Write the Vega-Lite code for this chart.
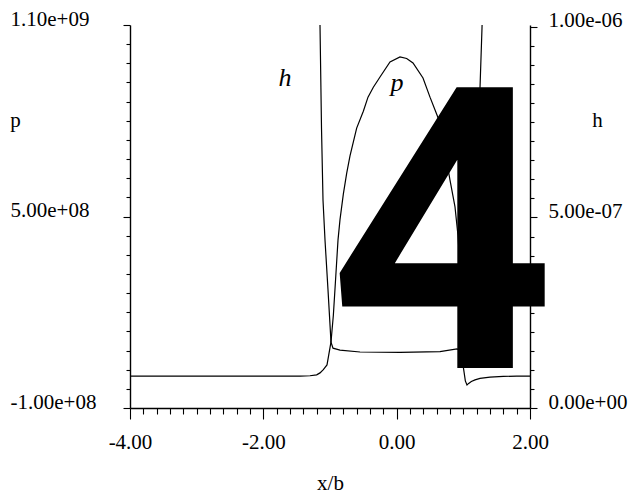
{
  "$schema": "https://vega.github.io/schema/vega-lite/v6.json",
  "width": 400,
  "height": 383,
  "autosize": {"type": "none"},
  "padding": {"left": 130, "top": 25, "right": 109, "bottom": 89},
  "background": "white",
  "config": {
    "view": {"stroke": null},
    "axis": {
      "labelFont": "Liberation Serif",
      "titleFont": "Liberation Serif",
      "labelFontSize": 21,
      "titleFontSize": 21,
      "labelColor": "black",
      "titleColor": "black",
      "domainColor": "black",
      "tickColor": "black",
      "grid": false,
      "titleFontWeight": "normal",
      "domainWidth": 1.4,
      "tickWidth": 1.1,
      "labelOverlap": false,
      "labelFlush": false,
      "tickCount": 200
    }
  },
  "datasets": {
    "pres": [
      {"x": -4, "p": 0}, {"x": -2, "p": 0}, {"x": -1.45, "p": 0}, {"x": -1.3, "p": 1000000},
      {"x": -1.2, "p": 4000000}, {"x": -1.15, "p": 10000000}, {"x": -1.1, "p": 20000000},
      {"x": -1.045, "p": 35000000}, {"x": -1.02, "p": 65000000}, {"x": -0.985, "p": 107000000},
      {"x": -0.95, "p": 190000000}, {"x": -0.92, "p": 290000000}, {"x": -0.88, "p": 426000000},
      {"x": -0.85, "p": 490000000}, {"x": -0.8, "p": 570000000}, {"x": -0.75, "p": 635000000},
      {"x": -0.7, "p": 690000000}, {"x": -0.6, "p": 777000000}, {"x": -0.5, "p": 830000000},
      {"x": -0.43, "p": 874000000}, {"x": -0.35, "p": 905000000}, {"x": -0.25, "p": 937000000},
      {"x": -0.1, "p": 984000000}, {"x": 0.05, "p": 1000000000}, {"x": 0.15, "p": 995000000},
      {"x": 0.245, "p": 981000000}, {"x": 0.395, "p": 934000000}, {"x": 0.5, "p": 874000000},
      {"x": 0.605, "p": 818000000}, {"x": 0.65, "p": 793000000}, {"x": 0.8, "p": 614000000},
      {"x": 0.875, "p": 530000000}, {"x": 0.92, "p": 440000000}, {"x": 0.95, "p": 340000000},
      {"x": 0.975, "p": 200000000}, {"x": 0.99, "p": 100000000}, {"x": 1.0, "p": 28000000},
      {"x": 1.03, "p": -15000000}, {"x": 1.055, "p": -28000000}, {"x": 1.08, "p": -23000000},
      {"x": 1.12, "p": -17000000}, {"x": 1.175, "p": -12000000}, {"x": 1.25, "p": -7000000},
      {"x": 1.4, "p": -3000000}, {"x": 1.6, "p": -1000000}, {"x": 1.8, "p": 0}, {"x": 2, "p": 0}
    ],
    "film": [
      {"x": -1.16, "h": 1.06e-6}, {"x": -1.15, "h": 1.005e-6}, {"x": -1.1275, "h": 7.35e-7},
      {"x": -1.105, "h": 5.46e-7}, {"x": -1.075, "h": 4.41e-7}, {"x": -1.03, "h": 3.1e-7},
      {"x": -0.985, "h": 1.73e-7}, {"x": -0.955, "h": 1.57e-7}, {"x": -0.85, "h": 1.52e-7},
      {"x": -0.55, "h": 1.47e-7}, {"x": 0.05, "h": 1.46e-7}, {"x": 0.65, "h": 1.48e-7},
      {"x": 0.905, "h": 1.55e-7}, {"x": 0.97, "h": 1.5e-7}, {"x": 1.0, "h": 1.4e-7},
      {"x": 1.05, "h": 1.7e-7}, {"x": 1.1, "h": 2.7e-7}, {"x": 1.15, "h": 4.3e-7},
      {"x": 1.2, "h": 6.3e-7}, {"x": 1.25, "h": 8.4e-7}, {"x": 1.28, "h": 9.97e-7},
      {"x": 1.29, "h": 1.06e-6}
    ],
    "marks": [
      {"x": -1.675, "p": 934000000, "label": "h"},
      {"x": 0.005, "p": 918000000, "label": "p"}
    ],
    "glyph": [
      {"x": -1.02, "h": 1.05e-7, "label": "4"}
    ]
  },
  "layer": [
    {
      "layer": [
        {
          "data": {"name": "pres"},
          "mark": {"type": "line", "color": "black", "strokeWidth": 1.2, "clip": true},
          "encoding": {
            "x": {
              "field": "x", "type": "quantitative",
              "scale": {"domain": [-4, 2], "nice": false, "zero": false},
              "axis": {
                "orient": "bottom",
                "tickCount": 200,
                "values": [-4, -3.8, -3.6, -3.4, -3.2, -3, -2.8, -2.6, -2.4, -2.2, -2, -1.8, -1.6, -1.4, -1.2, -1, -0.8, -0.6, -0.4, -0.2, 0, 0.2, 0.4, 0.6, 0.8, 1, 1.2, 1.4, 1.6, 1.8, 2],
                "labelExpr": "datum.value == -4 ? '-4.00' : datum.value == -2 ? '-2.00' : datum.value == 0 ? '0.00' : datum.value == 2 ? '2.00' : ''",
                "tickSize": {"condition": {"test": "datum.value == -4 || datum.value == -2 || datum.value == 0 || datum.value == 2", "value": 11}, "value": 6},
                "labelPadding": 12,
                "title": "x/b",
                "titleX": 200,
                "titleY": 75,
                "titleBaseline": "middle",
                "titleAlign": "center"
              }
            },
            "y": {
              "field": "p", "type": "quantitative",
              "scale": {"domain": [-100000000, 1100000000], "nice": false, "zero": false},
              "axis": {
                "orient": "left",
                "tickCount": 200,
                "values": [-100000000, -40000000, 20000000, 80000000, 140000000, 200000000, 260000000, 320000000, 380000000, 440000000, 500000000, 560000000, 620000000, 680000000, 740000000, 800000000, 860000000, 920000000, 980000000, 1040000000, 1100000000],
                "labelExpr": "datum.value == 1100000000 ? '1.10e+09' : datum.value == 500000000 ? '5.00e+08' : datum.value == -100000000 ? '-1.00e+08' : ''",
                "tickSize": {"condition": {"test": "datum.value == -100000000 || datum.value == 500000000 || datum.value == 1100000000", "value": 7}, "value": 4},
                "labelAlign": "left",
                "labelBaseline": "alphabetic",
                "labelPadding": 113,
                "title": "p",
                "titleAngle": 0,
                "titleX": -115,
                "titleY": 95,
                "titleAlign": "center",
                "titleBaseline": "middle"
              }
            }
          }
        },
        {
          "data": {"name": "marks"},
          "mark": {"type": "text", "font": "Liberation Serif", "fontStyle": "italic", "fontSize": 26, "align": "center", "baseline": "middle", "color": "black"},
          "encoding": {
            "x": {"field": "x", "type": "quantitative"},
            "y": {"field": "p", "type": "quantitative"},
            "text": {"field": "label"}
          }
        }
      ]
    },
    {
      "layer": [
        {
          "data": {"name": "film"},
          "mark": {"type": "line", "color": "black", "strokeWidth": 1.2, "clip": true},
          "encoding": {
            "x": {"field": "x", "type": "quantitative"},
            "y": {
              "field": "h", "type": "quantitative",
              "scale": {"domain": [0, 1.005e-6], "nice": false, "zero": false},
              "axis": {
                "orient": "right",
                "tickCount": 200,
                "values": [0, 5e-8, 1e-7, 1.5e-7, 2e-7, 2.5e-7, 3e-7, 3.5e-7, 4e-7, 4.5e-7, 5e-7, 5.5e-7, 6e-7, 6.5e-7, 7e-7, 7.5e-7, 8e-7, 8.5e-7, 9e-7, 9.5e-7, 1e-6],
                "labelExpr": "datum.value == 0 ? '0.00e+00' : datum.value == 5e-7 ? '5.00e-07' : datum.value == 1e-6 ? '1.00e-06' : ''",
                "tickSize": {"condition": {"test": "datum.value == 0 || datum.value == 5e-7 || datum.value == 1e-6", "value": 7}, "value": 4},
                "labelAlign": "left",
                "labelBaseline": "alphabetic",
                "labelPadding": 11,
                "title": "h",
                "titleAngle": 0,
                "titleX": 67,
                "titleY": 95,
                "titleAlign": "center",
                "titleBaseline": "middle"
              }
            }
          }
        },
        {
          "data": {"name": "glyph"},
          "mark": {"type": "text", "font": "Roboto", "fontWeight": "bold", "fontSize": 395, "align": "left", "baseline": "alphabetic", "color": "black"},
          "encoding": {
            "x": {"field": "x", "type": "quantitative"},
            "y": {"field": "h", "type": "quantitative"},
            "text": {"field": "label"}
          }
        }
      ]
    }
  ],
  "resolve": {"scale": {"y": "independent"}, "axis": {"y": "independent"}}
}
